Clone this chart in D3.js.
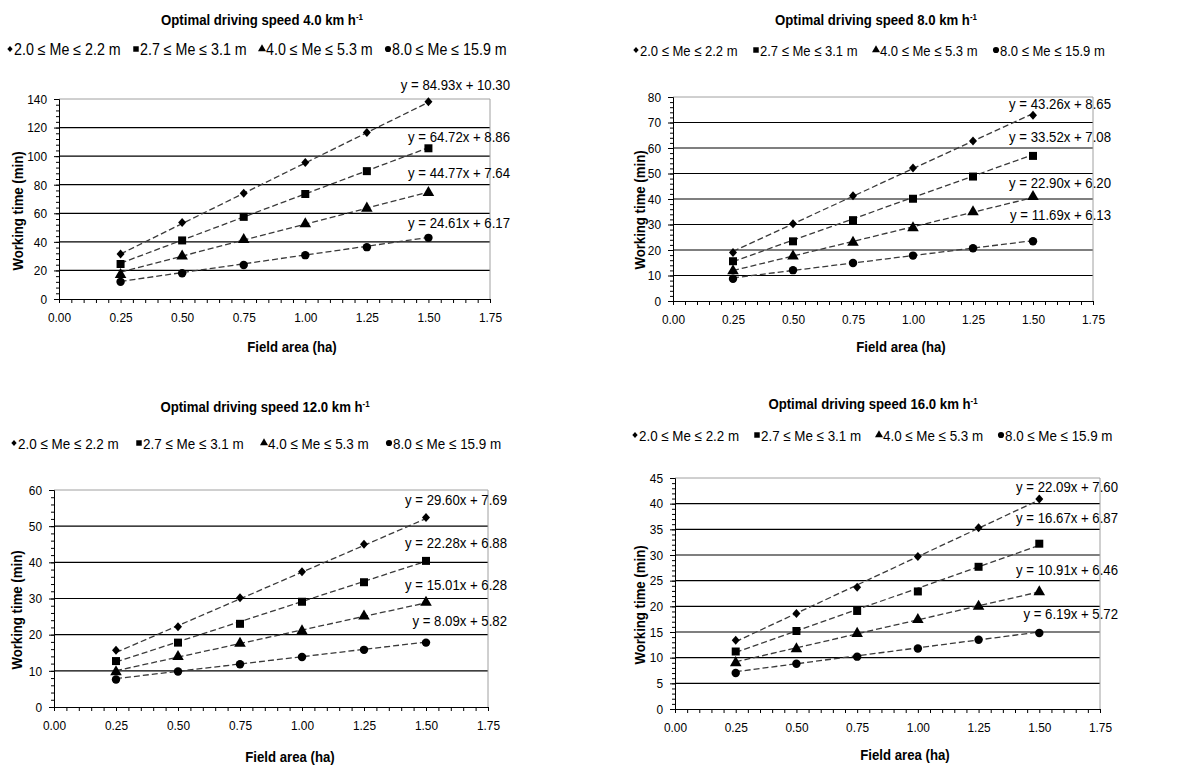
<!DOCTYPE html>
<html>
<head>
<meta charset="utf-8">
<script src="https://cdn.jsdelivr.net/npm/d3@7"></script>
<style>
  body { margin: 0; background: #fff; }
  text { font-family: "Liberation Sans", Arial, sans-serif; fill: #000; }
</style>
</head>
<body>
<div id="chart"></div>
<script>
// field areas (ha) on the x axis
var areas = [0.25, 0.50, 0.75, 1.00, 1.25, 1.50];

// legend entries, one per working width class
var seriesNames = ["2.0 \u2264 Me \u2264 2.2 m", "2.7 \u2264 Me \u2264 3.1 m",
                   "4.0 \u2264 Me \u2264 5.3 m", "8.0 \u2264 Me \u2264 15.9 m"];

// panel titles (driving speed, km h-1)
var speeds = ["4.0", "8.0", "12.0", "16.0"];

// y axis maximum and step for each panel
var yMax = [140, 80, 60, 45];
var yStep = [20, 10, 10, 5];

// working time (min)
var speed4 = [
  [31.5, 53.5, 74.0, 95.5, 116.5, 138.0],
  [24.5, 41.0, 57.5, 73.5, 89.5, 105.5],
  [17.0, 30.0, 41.5, 52.5, 63.5, 74.5],
  [12.0, 18.0, 23.8, 30.7, 36.3, 42.8]
];
var speed8 = [
  [19.0, 30.3, 41.3, 52.2, 62.7, 72.8],
  [15.6, 23.4, 31.7, 40.1, 48.8, 56.9],
  [11.8, 17.6, 23.0, 28.7, 34.9, 40.9],
  [8.7, 12.1, 14.9, 17.8, 20.7, 23.4]
];
var speed12 = [
  [15.7, 22.2, 30.2, 37.4, 45.0, 52.4],
  [12.7, 17.8, 23.0, 29.1, 34.5, 40.4],
  [9.7, 13.9, 17.6, 21.0, 25.1, 28.9],
  [7.6, 9.8, 11.8, 13.8, 15.8, 17.8]
];
var speed16 = [
  [13.4, 18.6, 23.7, 29.7, 35.3, 40.9],
  [11.2, 15.2, 19.1, 22.9, 27.7, 32.2],
  [9.0, 11.7, 14.7, 17.4, 20.0, 22.8],
  [7.0, 8.8, 10.2, 11.8, 13.5, 14.8]
];

// trend line equations: [slope, intercept]
var eq4 = [[84.93, 10.30], [64.72, 8.86], [44.77, 7.64], [24.61, 6.17]];
var eq8 = [[43.26, 8.65], [33.52, 7.08], [22.90, 6.20], [11.69, 6.13]];
var eq12 = [[29.60, 7.69], [22.28, 6.88], [15.01, 6.28], [8.09, 5.82]];
var eq16 = [[22.09, 7.60], [16.67, 6.87], [10.91, 6.46], [6.19, 5.72]];

var allValues = [speed4, speed8, speed12, speed16];
var allEqs = [eq4, eq8, eq12, eq16];

// layout of each panel (pixels)
var panels = [
  {left: 59, right: 490, top: 99, bottom: 299, titleX: 262, titleY: 20,
   legX: 7, legY: 49, legGap: 126, legFont: 16.2, eqX: 510, eqY: [85, 137, 173, 223],
   xTitleX: 292, xTitleY: 347, yTitleX: 18, yTitleY: 211},
  {left: 673, right: 1093, top: 97, bottom: 301, titleX: 876, titleY: 20,
   legX: 633, legY: 50, legGap: 120, legFont: 14.8, eqX: 1111, eqY: [104, 137, 183, 215],
   xTitleX: 901, xTitleY: 347, yTitleX: 640, yTitleY: 210},
  {left: 54, right: 488, top: 490, bottom: 707, titleX: 265, titleY: 407,
   legX: 11, legY: 443, legGap: 125, legFont: 15.3, eqX: 507, eqY: [500, 543, 585, 621],
   xTitleX: 290, xTitleY: 757, yTitleX: 17, yTitleY: 610},
  {left: 675, right: 1100, top: 478, bottom: 709, titleX: 873, titleY: 404,
   legX: 632, legY: 435, legGap: 122, legFont: 15.2, eqX: 1118, eqY: [487, 518, 570, 614],
   xTitleX: 905, xTitleY: 755, yTitleX: 640, yTitleY: 605}
];

// the original text is a little narrow, squeeze it horizontally
var squeeze = 0.88;

// Excel-like diamond: a bit wider than d3's default one
var diamond = {
  draw: function(context, size) {
    var h = Math.sqrt(size / 2) * 1.06, w = Math.sqrt(size / 2) * 0.94;
    context.moveTo(0, -h);
    context.lineTo(w, 0);
    context.lineTo(0, h);
    context.lineTo(-w, 0);
    context.closePath();
  }
};

var symbols = [diamond, d3.symbolSquare, d3.symbolTriangle, d3.symbolCircle];
var markSize = [36, 64, 58, 56];
var legSize = [16, 30, 28, 30];

var svg = d3.select("#chart")
  .append("svg")
  .attr("width", 1184)
  .attr("height", 767);

function label(g, x, y, size, extra) {
  return g.append("text")
    .attr("transform", "translate(" + x + "," + y + ")" + (extra || "") + " scale(" + squeeze + ",1)")
    .style("font-size", size + "px");
}

panels.forEach(function(p, k) {
  var g = svg.append("g");

  var x = d3.scaleLinear().domain([0, 1.75]).range([p.left, p.right]);
  var y = d3.scaleLinear().domain([0, yMax[k]]).range([p.bottom, p.top]);

  // title
  var t = label(g, p.titleX, p.titleY + 5, 15)
    .attr("text-anchor", "middle")
    .style("font-weight", "bold")
    .text("Optimal driving speed " + speeds[k] + " km h");
  t.append("tspan").attr("dy", -5).style("font-size", "9px").text("-1");

  // legend
  seriesNames.forEach(function(name, i) {
    var lx = p.legX + i * p.legGap;
    g.append("path")
      .attr("d", d3.symbol().type(symbols[i]).size(legSize[i]))
      .attr("transform", "translate(" + (lx + 3) + "," + (p.legY) + ")")
      .attr("fill", "#000");
    label(g, lx + 7, p.legY + 5.5, p.legFont).text(name);
  });

  // grid lines
  var yTicks = d3.range(yStep[k], yMax[k], yStep[k]);
  g.append("g").selectAll("line")
    .data(yTicks).enter().append("line")
    .attr("x1", p.left).attr("x2", p.right)
    .attr("y1", function(d) { return y(d); })
    .attr("y2", function(d) { return y(d); })
    .attr("stroke", "#000").attr("stroke-width", 1.2);

  // plot frame (top and right are gray)
  g.append("path")
    .attr("d", "M" + p.left + "," + p.top + "H" + p.right + "V" + p.bottom)
    .attr("fill", "none").attr("stroke", "#a0a0a0");

  // y axis: minor ticks then major ticks
  var minor = d3.range(0, yMax[k] + 0.001, yStep[k] / 5);
  g.append("g")
    .attr("transform", "translate(" + p.left + ",0)")
    .call(d3.axisLeft(y).tickValues(minor).tickSize(3).tickFormat(""))
    .call(function(a) { a.select(".domain").remove(); });
  var yAxis = g.append("g")
    .attr("transform", "translate(" + p.left + ",0)")
    .call(d3.axisLeft(y).tickValues(d3.range(0, yMax[k] + 0.001, yStep[k]))
      .tickSize(5).tickPadding(8.6));
  yAxis.selectAll("text").style("font-size", "13.5px").attr("font-family", null)
    .attr("transform", "scale(" + squeeze + ",1)");

  // x axis
  var xt = d3.range(36).map(function(i) { return i * 0.05; });
  var xAxis = g.append("g")
    .attr("transform", "translate(0," + p.bottom + ")")
    .call(d3.axisBottom(x).tickValues(xt).tickSize(4).tickPadding(9)
      .tickFormat(function(d, i) { return i % 5 === 0 ? d3.format(".2f")(d) : ""; }));
  xAxis.selectAll("text").style("font-size", "13.5px").attr("font-family", null)
    .attr("transform", "scale(" + squeeze + ",1)");
  g.selectAll(".domain").attr("stroke", "#000");
  g.selectAll(".tick line").attr("stroke", "#000");

  // axis titles
  label(g, p.xTitleX, p.xTitleY + 5, 15)
    .attr("text-anchor", "middle")
    .style("font-weight", "bold")
    .text("Field area (ha)");
  label(g, p.yTitleX + 5, p.yTitleY, 15, " rotate(-90)")
    .attr("text-anchor", "middle")
    .style("font-weight", "bold")
    .text("Working time (min)");

  // trend lines, markers and equations
  allValues[k].forEach(function(vals, i) {
    var e = allEqs[k][i];
    var x0 = areas[0], x1 = areas[areas.length - 1];
    g.append("line")
      .attr("x1", x(x0)).attr("y1", y(e[0] * x0 + e[1]))
      .attr("x2", x(x1)).attr("y2", y(e[0] * x1 + e[1]))
      .attr("stroke", "#3a3a3a").attr("stroke-width", 1.3)
      .attr("stroke-dasharray", "6,3");

    g.append("g").selectAll("path")
      .data(vals).enter().append("path")
      .attr("d", d3.symbol().type(symbols[i]).size(markSize[i]))
      .attr("transform", function(d, j) {
        return "translate(" + x(areas[j]) + "," + y(d) + ")";
      })
      .attr("fill", "#000");

    label(g, p.eqX, p.eqY[i] + 5, 15)
      .attr("text-anchor", "end")
      .text("y = " + e[0].toFixed(2) + "x + " + e[1].toFixed(2));
  });
});
</script>
</body>
</html>
